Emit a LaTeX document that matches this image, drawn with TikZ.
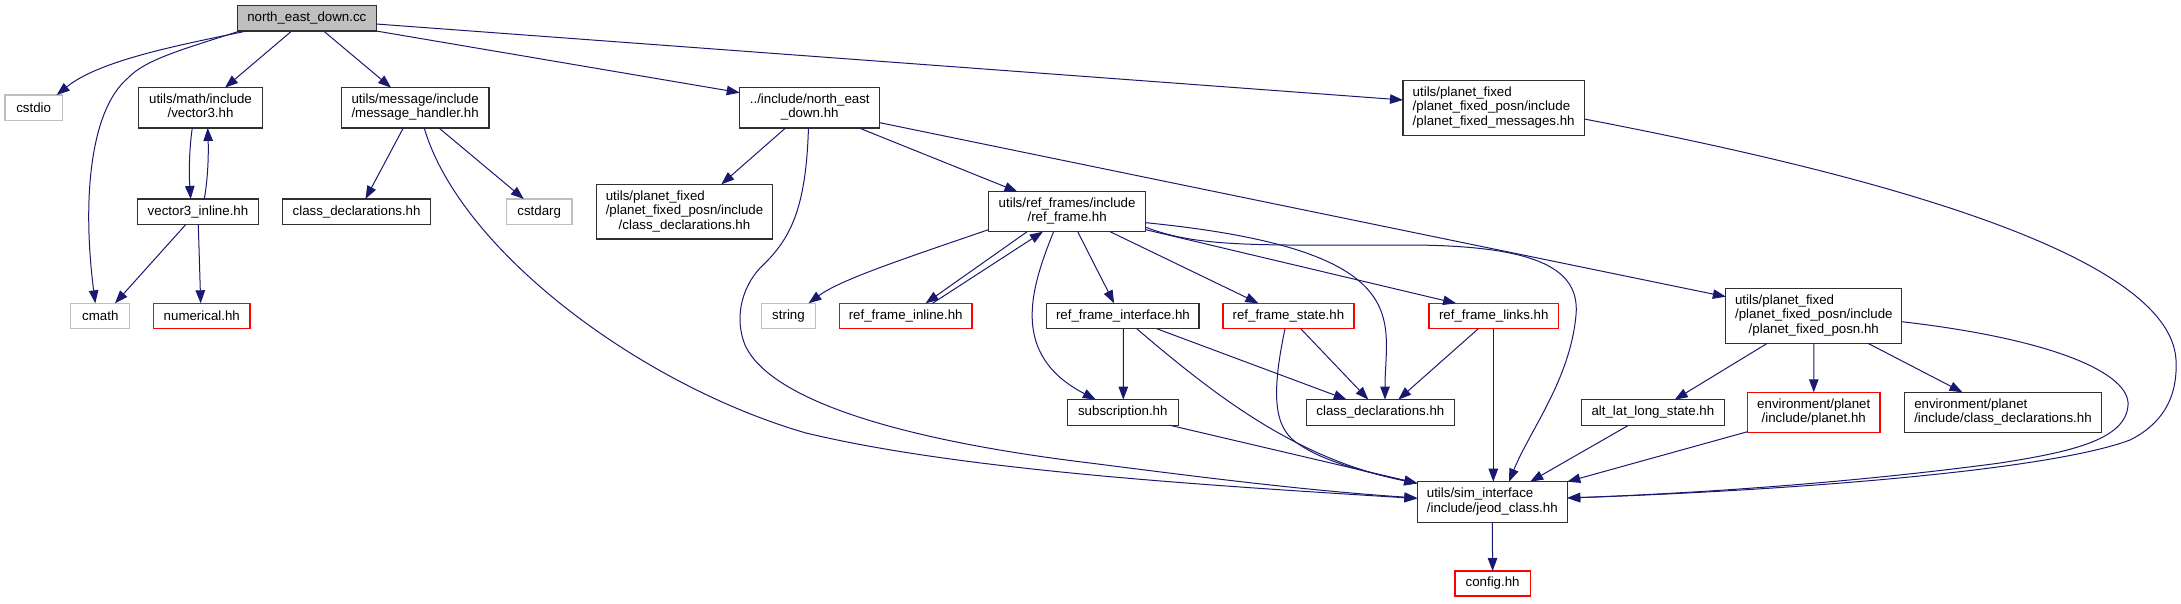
\documentclass[tikz,border=0pt]{standalone}
\usepackage{fontspec}
\setmainfont{Liberation Sans}
\usetikzlibrary{arrows.meta}
\definecolor{edgeblue}{HTML}{191970}
\definecolor{boxgray}{HTML}{BFBFBF}
\definecolor{boxdark}{HTML}{303030}
\newcommand\mlab[2]{\begin{tabular}{@{}l@{}}#1\\\multicolumn{1}{@{}c@{}}{#2}\end{tabular}}
\tikzset{
  box/.style={draw=boxdark, line width=1.25pt, inner sep=0pt, outer sep=0pt,
    font=\fontsize{13.3}{14.5}\selectfont, text=black},
  redbox/.style={box, draw=red},
  extbox/.style={box, draw=boxgray},
  edge/.style={draw=edgeblue, line width=1pt, -{Triangle[length=13pt,width=9.5pt]}},
}
\begin{document}
\begin{tikzpicture}[x=1pt,y=-1pt]
\useasboundingbox (0,0) rectangle (2181,603);
% nodes
\node[box, fill=boxgray, minimum width=138.8pt, minimum height=25.3pt] (necc) at (306.8,18.35) {north\_east\_down.cc};
\node[extbox, minimum width=57.5pt, minimum height=25.7pt] (cstdio) at (33.7,107.8) {cstdio};
\node[box, minimum width=124.4pt, minimum height=40.3pt] (vec3) at (200.5,107.8) {\mlab{utils/math/include}{/vector3.hh}};
\node[box, minimum width=147.6pt, minimum height=40.3pt] (msgh) at (415.1,107.8) {\mlab{utils/message/include}{/message\_handler.hh}};
\node[box, minimum width=140.1pt, minimum height=40.3pt] (nedhh) at (809.75,107.8) {\mlab{../include/north\_east}{\_down.hh}};
\node[box, minimum width=181.3pt, minimum height=55pt] (pfmsg) at (1493.65,107.8) {\mlab{utils/planet\_fixed\\/planet\_fixed\_posn/include}{/planet\_fixed\_messages.hh}};
\node[box, minimum width=120.6pt, minimum height=25.7pt] (vec3i) at (198,211.8) {vector3\_inline.hh};
\node[box, minimum width=148.1pt, minimum height=25.7pt] (cd1) at (356.6,211.8) {class\_declarations.hh};
\node[extbox, minimum width=65.4pt, minimum height=25.7pt] (cstdarg) at (539.2,211.8) {cstdarg};
\node[box, minimum width=176.3pt, minimum height=54.7pt] (pfcd) at (684.5,211.7) {\mlab{utils/planet\_fixed\\/planet\_fixed\_posn/include}{/class\_declarations.hh}};
\node[box, minimum width=157.4pt, minimum height=40pt] (rf) at (1067.1,211.7) {\mlab{utils/ref\_frames/include}{/ref\_frame.hh}};
\node[extbox, minimum width=59.1pt, minimum height=25.4pt] (cmath) at (100.3,316) {cmath};
\node[redbox, minimum width=96.4pt, minimum height=25.4pt] (numer) at (201.8,316) {numerical.hh};
\node[extbox, minimum width=54.6pt, minimum height=25.4pt] (string) at (788.5,316) {string};
\node[redbox, minimum width=132.5pt, minimum height=25.4pt] (rfi) at (905.7,316) {ref\_frame\_inline.hh};
\node[box, minimum width=152.1pt, minimum height=25.4pt] (rfint) at (1122.9,316) {ref\_frame\_interface.hh};
\node[redbox, minimum width=131pt, minimum height=25.4pt] (rfs) at (1288.4,316) {ref\_frame\_state.hh};
\node[redbox, minimum width=129.3pt, minimum height=25.4pt] (rfl) at (1493.7,316) {ref\_frame\_links.hh};
\node[box, minimum width=175.9pt, minimum height=55pt] (pfposn) at (1813.8,315.8) {\mlab{utils/planet\_fixed\\/planet\_fixed\_posn/include}{/planet\_fixed\_posn.hh}};
\node[box, minimum width=110.8pt, minimum height=25.6pt] (subs) at (1122.8,412.4) {subscription.hh};
\node[box, minimum width=148pt, minimum height=25.6pt] (cd2) at (1380.4,412.4) {class\_declarations.hh};
\node[box, minimum width=142.6pt, minimum height=25.6pt] (alt) at (1652.9,412.5) {alt\_lat\_long\_state.hh};
\node[redbox, minimum width=132.5pt, minimum height=40.4pt] (envp) at (1813.75,412.5) {\mlab{environment/planet}{/include/planet.hh}};
\node[box, minimum width=197.1pt, minimum height=40.4pt] (envcd) at (2002.95,412.5) {\mlab{environment/planet}{/include/class\_declarations.hh}};
\node[box, minimum width=150pt, minimum height=40.6pt] (jeod) at (1492.3,502) {\mlab{utils/sim\_interface}{/include/jeod\_class.hh}};
\node[redbox, minimum width=75.2pt, minimum height=25pt] (config) at (1492.6,583.5) {config.hh};
% edges
\draw[edge] ([xshift=-60.1pt]necc.south) .. controls (180,45) and (100,60) .. ([xshift=23pt]cstdio.north);
\draw[edge] ([xshift=-66.8pt]necc.south) .. controls (180,50) and (145,60) .. (128,78) .. controls (90,110) and (82,200) .. ([xshift=-5pt]cmath.north);
\draw[edge] ([xshift=-15.1pt]necc.south) -- ([xshift=24.5pt]vec3.north);
\draw[edge] ([xshift=16.8pt]necc.south) -- ([xshift=-24pt]msgh.north);
\draw[edge] (necc.south east) -- ([yshift=-5pt]nedhh.north west);
\draw[edge] ([yshift=-5.65pt]necc.east) -- ([yshift=7.8pt]pfmsg.west);
\draw[edge] ([xshift=-8.2pt]vec3.south) .. controls (189,150) and (189,175) .. ([xshift=-7.3pt]vec3i.north);
\draw[edge] ([xshift=6.3pt]vec3i.north) .. controls (208.5,175) and (208.5,150) .. ([xshift=7.2pt]vec3.south);
\draw[edge] ([xshift=-12.3pt]vec3i.south) -- ([xshift=14.7pt]cmath.north);
\draw[edge] ([xshift=0.3pt]vec3i.south) -- ([xshift=-1.1pt]numer.north);
\draw[edge] ([xshift=-11.8pt]msgh.south) -- ([xshift=8.9pt]cd1.north);
\draw[edge] ([xshift=23.8pt]msgh.south) -- ([xshift=-15.4pt]cstdarg.north);
\draw[edge] ([xshift=9.1pt]msgh.south) .. controls (460,250) and (640,385) .. (806,433) .. controls (960,470) and (1200,485) .. ([yshift=3.5pt]jeod.west);
\draw[edge] ([xshift=-24.2pt]nedhh.south) -- ([xshift=36.8pt]pfcd.north);
\draw[edge] ([xshift=-1.3pt]nedhh.south) .. controls (806,210) and (790,240) .. (760,268) .. controls (740,290) and (735,320) .. (745,345) .. controls (770,400) and (900,440) .. (1090,463) .. controls (1200,477) and (1300,490) .. ([yshift=4pt]jeod.west);
\draw[edge] ([xshift=49.25pt]nedhh.south) -- ([xshift=-49.6pt]rf.north);
\draw[edge] ([yshift=-14.9pt]nedhh.east) -- ([yshift=19.1pt]pfposn.west);
\draw[edge] ([yshift=-11.2pt]pfmsg.east) .. controls (1850,170) and (2170,250) .. (2176,360) .. controls (2178,400) and (2160,425) .. (2130,440) .. controls (2050,470) and (1800,490) .. ([yshift=4pt]jeod.east);
\draw[edge] ([yshift=-5.9pt]pfposn.east) .. controls (2060,340) and (2130,375) .. (2128,405) .. controls (2126,440) and (2070,452) .. (2000,463) .. controls (1850,483) and (1700,493) .. ([yshift=4pt]jeod.east);
\draw[edge] ([yshift=2pt]rf.south west) .. controls (900,260) and (840,280) .. ([xshift=20pt]string.north);
\draw[edge] ([xshift=-40pt]rf.south) -- ([xshift=19.9pt]rfi.north);
\draw[edge] ([xshift=26.8pt]rfi.north) -- ([xshift=-24.2pt]rf.south);
\draw[edge] ([xshift=-13.5pt]rf.south) .. controls (1030,290) and (1010,355) .. ([xshift=-27pt]subs.north);
\draw[edge] ([xshift=10.6pt]rf.south) -- ([xshift=-8.8pt]rfint.north);
\draw[edge] ([xshift=43pt]rf.south) -- ([xshift=-30pt]rfs.north);
\draw[edge] ([yshift=2pt]rf.south east) -- ([xshift=-37.6pt]rfl.north);
\draw[edge] ([yshift=-11pt]rf.east) .. controls (1420,250) and (1385,320) .. ([xshift=4.6pt]cd2.north);
\draw[edge] ([yshift=-15.6pt]rf.east) .. controls (1200,248) and (1260,245) .. (1413,245) .. controls (1540,246) and (1580,270) .. (1576,315) .. controls (1570,380) and (1530,430) .. ([xshift=16.7pt]jeod.north);
\draw[edge] ([xshift=0.4pt]rfint.south) -- ([xshift=0.5pt]subs.north);
\draw[edge] ([xshift=33.8pt]rfint.south) -- ([xshift=-33.7pt]cd2.north);
\draw[edge] ([xshift=13.8pt]rfint.south) .. controls (1220,400) and (1300,460) .. ([yshift=-1.6pt]jeod.north west);
\draw[edge] ([xshift=12.3pt]rfs.south) -- ([xshift=-12.1pt]cd2.north);
\draw[edge] ([xshift=-3.4pt]rfs.south) .. controls (1270,400) and (1275,430) .. (1300,445) .. controls (1330,465) and (1380,475) .. ([yshift=-1.6pt]jeod.north west);
\draw[edge] ([xshift=-15.4pt]rfl.south) -- ([xshift=17.9pt]cd2.north);
\draw[edge] ([xshift=-0.4pt]rfl.south) -- ([xshift=1pt]jeod.north);
\draw[edge] ([xshift=46.8pt]subs.south) -- ([yshift=-1.6pt]jeod.north west);
\draw[edge] ([xshift=-46.5pt]pfposn.south) -- ([xshift=21.8pt]alt.north);
\draw[edge] (pfposn.south) -- (envp.north);
\draw[edge] ([xshift=54.1pt]pfposn.south) -- ([xshift=-40.5pt]envcd.north);
\draw[edge] ([xshift=-24.4pt]alt.south) -- ([xshift=37.9pt]jeod.north);
\draw[edge] ([yshift=1pt]envp.south west) -- (jeod.north east);
\draw[edge] (jeod.south) -- (config.north);
\end{tikzpicture}
\end{document}
